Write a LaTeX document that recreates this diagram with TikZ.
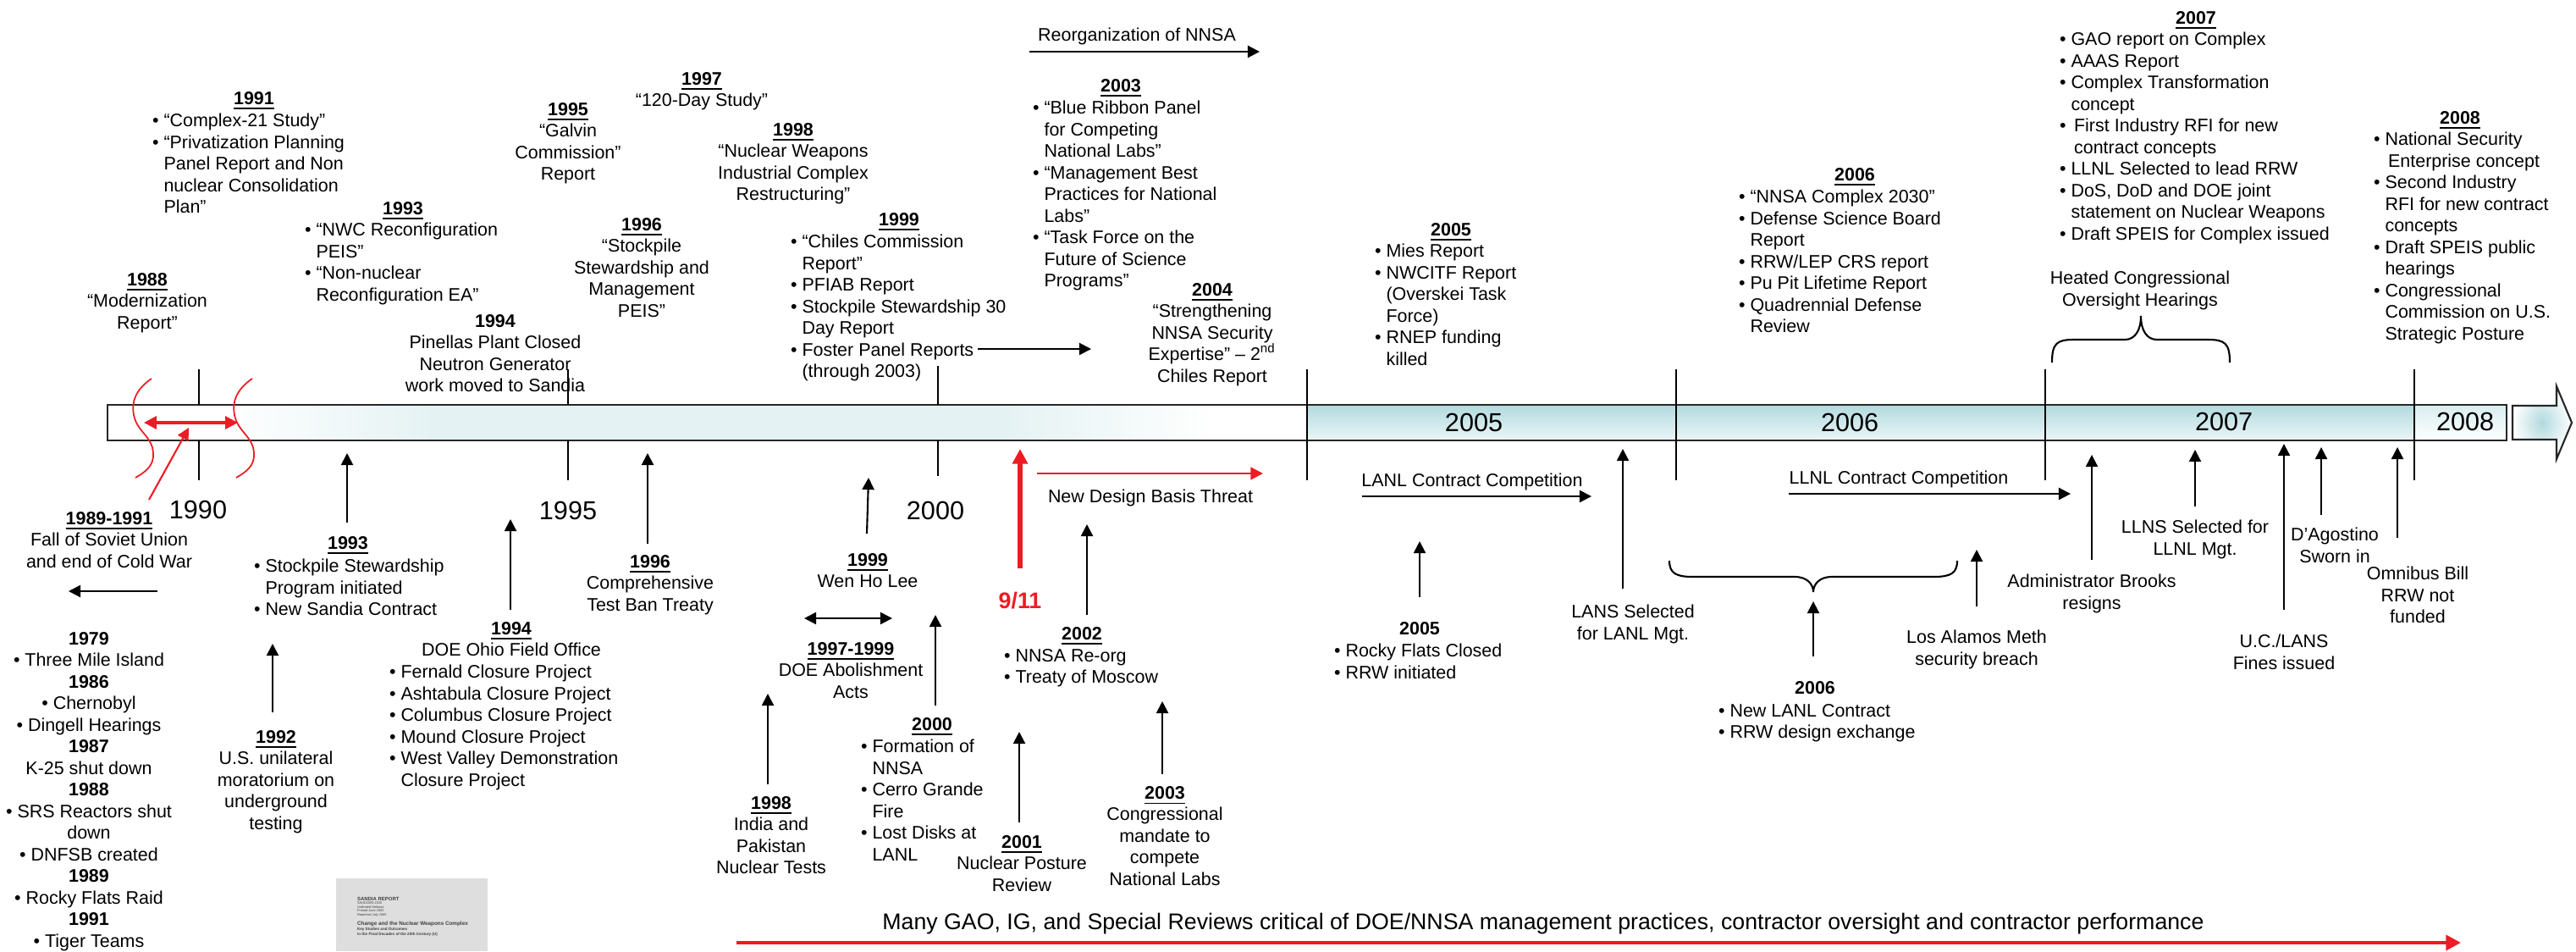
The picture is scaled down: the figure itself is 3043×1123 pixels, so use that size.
\documentclass[tikz,border=0pt]{standalone}
\usepackage{fontspec}
\setmainfont{Liberation Sans}
\usetikzlibrary{arrows.meta,fadings}
\definecolor{barteal}{RGB}{178,218,222}
\definecolor{nnsared}{RGB}{237,28,36}
\definecolor{thumbgray}{RGB}{222,222,222}
\newcommand{\yh}[1]{\underline{\textbf{#1}}}
\newcommand{\bul}{\textbullet\ }
\newcommand{\bulind}{\hphantom{\textbullet\ }}
\pgfdeclarehorizontalshading{barshade}{100bp}{color(0bp)=(white); color(30bp)=(white); color(39bp)=(barteal); color(62bp)=(barteal); color(71bp)=(white); color(100bp)=(white)}
\tikzfading[name=barband, top color=transparent!35, middle color=transparent!100, bottom color=transparent!35]
\begin{document}
\begin{tikzpicture}[x=0.01cm, y=-0.01cm, >={Triangle[length=4pt, width=4pt]}, line width=0.6pt,
    txt/.style={font=\fontsize{6.1}{7.25}\selectfont, inner sep=0pt, align=center},
    blk/.style={txt, anchor=north},
    lst/.style={txt, align=left, anchor=north west},
    hdg/.style={txt, anchor=base},
    yr/.style={font=\fontsize{8.7}{10}\selectfont, inner sep=0pt},
    redarr/.style={-{Triangle[length=5pt, width=5pt]}, nnsared, line width=1.5pt},
    barline/.style={draw=black!85, line width=0.6pt},
    thumb/.style={inner sep=0pt, anchor=west, text=black!75}]

    \useasboundingbox (0,0) rectangle (3043,1123);

    % timeline bar
    \shade[shading=barshade] (127,478) rectangle (1544,520);
    \fill[white, path fading=barband] (127,478) rectangle (1544,520);
    \shade[top color=barteal, bottom color=barteal!25] (1544,478) rectangle (2852,520);
    \shade[top color=barteal!50, bottom color=white] (2852,478) rectangle (2961,520);
    \draw[barline] (127,478) rectangle (2961,520);
    \shadedraw[inner color=barteal, outer color=white, barline] (2968,479) -- (3020,479) -- (3020,456) -- (3038,499) -- (3020,542) -- (3020,519) -- (2968,519) -- cycle;

    \draw (235,436) -- (235,478) (235,520) -- (235,567);
    \draw (671,436) -- (671,478) (671,520) -- (671,567);
    \draw (1108,432) -- (1108,478) (1108,520) -- (1108,562);
    \draw (1544,436) -- (1544,567);
    \draw (1980,436) -- (1980,567);
    \draw (2416,436) -- (2416,567);
    \draw (2852,436) -- (2852,567);

    \node[yr] (y90) at (234,602) {1990};
    \node[yr] (y95) at (671,603) {1995};
    \node[yr] (y00) at (1105,603) {2000};
    \node[yr] (y05) at (1741,499) {2005};
    \node[yr] (y06) at (2185,499) {2006};
    \node[yr] (y07) at (2627,498) {2007};
    \node[yr] (y08) at (2912,498) {2008};

    % end of the cold war
    \draw[nnsared, line width=0.5pt] (179,447) .. controls (160,460) and (155,475) .. (158,490) .. controls (162,510) and (180,515) .. (181,535) .. controls (182,550) and (172,557) .. (160,564);
    \draw[nnsared, line width=0.5pt] (298,447) .. controls (279,460) and (274,475) .. (277,490) .. controls (281,510) and (299,515) .. (300,535) .. controls (301,550) and (291,557) .. (279,564);
    \coordinate (rl) at (170,499);
    \coordinate (rr) at (281,499);
    \draw[{Triangle[length=4.2pt, width=4.2pt]}-{Triangle[length=4.2pt, width=4.2pt]}, nnsared, line width=0.9pt] (rl) -- (rr);

    % above the bar
    \node[hdg] (h91) at (300,123) {\yh{1991}};
    \node[lst] (t91) at (179,133) {\bul “Complex-21 Study”\\\bul “Privatization Planning\\\bulind Panel Report and Non\\\bulind nuclear Consolidation\\\bulind Plan”};
    \node[blk] (t95) at (671,120) {\yh{1995}\\“Galvin\\Commission”\\Report};
    \node[blk] (t97) at (829,84) {\yh{1997}\\“120-Day Study”};
    \node[blk] (t98) at (937,144) {\yh{1998}\\“Nuclear Weapons\\Industrial Complex\\Restructuring”};
    \node[hdg] (h93) at (476,253) {\yh{1993}};
    \node[lst] (t93) at (359,262) {\bul “NWC Reconfiguration\\\bulind PEIS”\\\bul “Non-nuclear\\\bulind Reconfiguration EA”};
    \node[blk] (t96) at (758,256) {\yh{1996}\\“Stockpile\\Stewardship and\\Management\\PEIS”};
    \node[blk] (t88) at (174,321) {\yh{1988}\\“Modernization\\Report”};
    \node[blk] (t94) at (585,370) {\textbf{1994}\\Pinellas Plant Closed\\Neutron Generator\\work moved to Sandia};
    \node[hdg] (h99) at (1062,266) {\yh{1999}};
    \node[lst] (t99) at (933,276) {\bul “Chiles Commission\\\bulind Report”\\\bul PFIAB Report\\\bul Stockpile Stewardship 30\\\bulind Day Report\\\bul Foster Panel Reports\\\bulind (through 2003)};
    \node[hdg] (h03) at (1324,108) {\yh{2003}};
    \node[lst] (t03) at (1219,118) {\bul “Blue Ribbon Panel\\\bulind for Competing\\\bulind National Labs”\\\bul “Management Best\\\bulind Practices for National\\\bulind Labs”\\\bul “Task Force on the\\\bulind Future of Science\\\bulind Programs”};
    \node[blk] (t04) at (1432,333) {\yh{2004}\\“Strengthening\\NNSA Security\\Expertise” – 2\textsuperscript{nd}\\Chiles Report};
    \node[txt] (reorg) at (1343,43) {Reorganization of NNSA};
    \node[hdg] (h05) at (1714,278) {\yh{2005}};
    \node[lst] (t05) at (1623,287) {\bul Mies Report\\\bul NWCITF Report\\\bulind (Overskei Task\\\bulind Force)\\\bul RNEP funding\\\bulind killed};
    \node[hdg] (h06) at (2191,213) {\yh{2006}};
    \node[lst] (t06) at (2053,223) {\bul “NNSA Complex 2030”\\\bul Defense Science Board\\\bulind Report\\\bul RRW/LEP CRS report\\\bul Pu Pit Lifetime Report\\\bul Quadrennial Defense\\\bulind Review};
    \node[hdg] (h07) at (2594,28) {\yh{2007}};
    \node[lst] (t07) at (2432,37) {\bul GAO report on Complex\\\bul AAAS Report\\\bul Complex Transformation\\\bulind concept\\\bul\,First Industry RFI for new\\\bulind\,contract concepts\\\bul LLNL Selected to lead RRW\\\bul DoS, DoD and DOE joint\\\bulind statement on Nuclear Weapons\\\bul Draft SPEIS for Complex issued};
    \node[hdg] (h08) at (2906,146) {\yh{2008}};
    \node[lst] (t08) at (2803,155) {\bul National Security\\\bulind\,Enterprise concept\\\bul Second Industry\\\bulind RFI for new contract\\\bulind concepts\\\bul Draft SPEIS public\\\bulind hearings\\\bul Congressional\\\bulind Commission on U.S.\\\bulind Strategic Posture};
    \node[blk] (heat) at (2528,319) {Heated Congressional\\Oversight Hearings};
    \draw (2424,428) .. controls (2424,405) and (2430,401) .. (2450,401) -- (2510,401) .. controls (2522,401) and (2529,390) .. (2529,373) .. controls (2529,390) and (2536,401) .. (2548,401) -- (2608,401) .. controls (2628,401) and (2634,405) .. (2634,428);

    % below the bar
    \node[blk] (t8991) at (129,603) {\yh{1989-1991}\\Fall of Soviet Union\\and end of Cold War};
    \node[blk] (tcold) at (105,745) {\textbf{1979}\\\bul Three Mile Island\\\textbf{1986}\\\bul Chernobyl\\\bul Dingell Hearings\\\textbf{1987}\\K-25 shut down\\\textbf{1988}\\\bul SRS Reactors shut\\down\\\bul DNFSB created\\\textbf{1989}\\\bul Rocky Flats Raid\\\textbf{1991}\\\bul Tiger Teams};
    \node[hdg] (h93b) at (411,648) {\yh{1993}};
    \node[lst] (t93b) at (299,659) {\bul Stockpile Stewardship\\\bulind Program initiated\\\bul New Sandia Contract};
    \node[blk] (t92) at (326,861) {\yh{1992}\\U.S. unilateral\\moratorium on\\underground\\testing};
    \node[blk] (h94b) at (604,733) {\yh{1994}\\DOE Ohio Field Office};
    \node[lst] (t94b) at (459,784) {\bul Fernald Closure Project\\\bul Ashtabula Closure Project\\\bul Columbus Closure Project\\\bul Mound Closure Project\\\bul West Valley Demonstration\\\bulind Closure Project};
    \node[blk] (t96b) at (768,654) {\yh{1996}\\Comprehensive\\Test Ban Treaty};
    \node[blk] (t99b) at (1025,652) {\yh{1999}\\Wen Ho Lee};
    \node[blk] (t9799) at (1005,757) {\yh{1997-1999}\\DOE Abolishment\\Acts};
    \node[hdg] (h00) at (1101,862) {\yh{2000}};
    \node[lst] (t00) at (1016,872) {\bul Formation of\\\bulind NNSA\\\bul Cerro Grande\\\bulind Fire\\\bul Lost Disks at\\\bulind LANL};
    \node[blk] (t98b) at (911,939) {\yh{1998}\\India and\\Pakistan\\Nuclear Tests};
    \node[font=\fontsize{7.6}{9}\selectfont\bfseries, text=nnsared, inner sep=0pt] (t911) at (1205,709) {9/11};
    \node[txt] (tdbt) at (1359,588) {New Design Basis Threat};
    \node[hdg] (h02) at (1278,755) {\yh{2002}};
    \node[lst] (t02) at (1185,765) {\bul NNSA Re-org\\\bul Treaty of Moscow};
    \node[blk] (t01) at (1207,985) {\yh{2001}\\Nuclear Posture\\Review};
    \node[blk] (t03b) at (1376,927) {\yh{2003}\\Congressional\\mandate to\\compete\\National Labs};
    \node[txt] (tlanl) at (1739,569) {LANL Contract Competition};
    \node[hdg] (h05b) at (1677,749) {\textbf{2005}};
    \node[lst] (t05b) at (1575,759) {\bul Rocky Flats Closed\\\bul RRW initiated};
    \node[blk] (tlans) at (1929,713) {LANS Selected\\for LANL Mgt.};
    \node[txt] (tllnl) at (2243,566) {LLNL Contract Competition};
    \draw (1972,662) .. controls (1972,677) and (1980,681) .. (2000,681) -- (2120,681) .. controls (2135,681) and (2142,690) .. (2142,699) .. controls (2142,690) and (2149,681) .. (2164,681) -- (2284,681) .. controls (2304,681) and (2312,677) .. (2312,662);
    \node[hdg] (h06b) at (2144,819) {\textbf{2006}};
    \node[lst] (t06b) at (2029,830) {\bul New LANL Contract\\\bul RRW design exchange};
    \node[blk] (tmeth) at (2335,743) {Los Alamos Meth\\security breach};
    \node[blk] (tbrk) at (2471,677) {Administrator Brooks\\resigns};
    \node[blk] (tllns) at (2593,613) {LLNS Selected for\\LLNL Mgt.};
    \node[blk] (tfine) at (2698,748) {U.C./LANS\\Fines issued};
    \node[blk] (tdag) at (2758,622) {D’Agostino\\Sworn in};
    \node[blk] (tomni) at (2856,668) {Omnibus Bill\\RRW not\\funded};
    \node[font=\fontsize{7.6}{9}\selectfont, inner sep=0pt] (tgao) at (1823,1091) {Many GAO, IG, and Special Reviews critical of DOE/NNSA management practices, contractor oversight and contractor performance};

    % report thumbnail
    \fill[thumbgray] (397,1037) rectangle (576,1123);
    \node[thumb, font=\fontsize{1.7}{2}\selectfont\bfseries] (sr1) at (421,1061) {SANDIA REPORT};
    \node[thumb, font=\fontsize{1.1}{1.3}\selectfont, align=left, anchor=north west] (sr2) at (421,1064) {SAND2005-2020\\Unlimited Release\\Printed June 2005\\Reprinted July 2005};
    \node[thumb, font=\fontsize{1.8}{2}\selectfont\bfseries] (sr3) at (421,1091) {Change and the Nuclear Weapons Complex};
    \node[thumb, font=\fontsize{1.3}{1.6}\selectfont\bfseries, align=left, anchor=north west] (sr4) at (421,1094) {Key Studies and Outcomes\\in the Final Decades of the 20th Century (U)};

    % arrow ends
    \coordinate (s8991) at (176,590); \coordinate (e8991) at (223,505);
    \coordinate (scold) at (186,698); \coordinate (ecold) at (81,698);
    \coordinate (s93b) at (410,617); \coordinate (e93b) at (410,535);
    \coordinate (s92) at (322,841); \coordinate (e92) at (322,760);
    \coordinate (s94b) at (603,720); \coordinate (e94b) at (603,613);
    \coordinate (s96b) at (765,642); \coordinate (e96b) at (765,535);
    \coordinate (s99b) at (1024,630); \coordinate (e99b) at (1026,564);
    \coordinate (d97l) at (950,730); \coordinate (d97r) at (1054,730);
    \coordinate (s00) at (1105,833); \coordinate (e00) at (1105,726);
    \coordinate (s98b) at (907,926); \coordinate (e98b) at (907,819);
    \coordinate (s911) at (1205,671); \coordinate (e911) at (1205,530);
    \coordinate (sdbt) at (1225,559); \coordinate (edbt) at (1492,559);
    \coordinate (s02) at (1284,726); \coordinate (e02) at (1284,619);
    \coordinate (s01) at (1204,971); \coordinate (e01) at (1204,864);
    \coordinate (s03b) at (1373,914); \coordinate (e03b) at (1373,828);
    \coordinate (sfos) at (1155,412); \coordinate (efos) at (1289,412);
    \coordinate (sreo) at (1216,61); \coordinate (ereo) at (1488,61);
    \coordinate (slanl) at (1609,586); \coordinate (elanl) at (1880,586);
    \coordinate (s05b) at (1677,705); \coordinate (e05b) at (1677,639);
    \coordinate (slans) at (1917,695); \coordinate (elans) at (1917,530);
    \coordinate (sllnl) at (2113,583); \coordinate (ellnl) at (2446,583);
    \coordinate (s06b) at (2142,775); \coordinate (e06b) at (2142,710);
    \coordinate (smeth) at (2335,716); \coordinate (emeth) at (2335,649);
    \coordinate (sbrk) at (2471,661); \coordinate (ebrk) at (2471,537);
    \coordinate (sllns) at (2593,598); \coordinate (ellns) at (2593,531);
    \coordinate (sfine) at (2698,720); \coordinate (efine) at (2698,524);
    \coordinate (sdag) at (2742,608); \coordinate (edag) at (2742,528);
    \coordinate (somni) at (2832,635); \coordinate (eomni) at (2832,528);
    \coordinate (sgao) at (870,1113); \coordinate (egao) at (2907,1113);

    \draw[-{Triangle[length=4pt, width=4pt]}, nnsared, line width=0.6pt] (s8991) -- (e8991);
    \draw[->] (scold) -- (ecold);
    \draw[->] (s93b) -- (e93b);
    \draw[->] (s92) -- (e92);
    \draw[->] (s94b) -- (e94b);
    \draw[->] (s96b) -- (e96b);
    \draw[->] (s99b) -- (e99b);
    \draw[<->] (d97l) -- (d97r);
    \draw[->] (s00) -- (e00);
    \draw[->] (s98b) -- (e98b);
    \draw[redarr] (s911) -- (e911);
    \draw[-{Triangle[length=4.2pt, width=4.2pt]}, nnsared, line width=0.7pt] (sdbt) -- (edbt);
    \draw[->] (s02) -- (e02);
    \draw[->] (s01) -- (e01);
    \draw[->] (s03b) -- (e03b);
    \draw[->] (sfos) -- (efos);
    \draw[->] (sreo) -- (ereo);
    \draw[->] (slanl) -- (elanl);
    \draw[->] (s05b) -- (e05b);
    \draw[->] (slans) -- (elans);
    \draw[->] (sllnl) -- (ellnl);
    \draw[->] (s06b) -- (e06b);
    \draw[->] (smeth) -- (emeth);
    \draw[->] (sbrk) -- (ebrk);
    \draw[->] (sllns) -- (ellns);
    \draw[->] (sfine) -- (efine);
    \draw[->] (sdag) -- (edag);
    \draw[->] (somni) -- (eomni);
    \draw[redarr, line width=1.4pt] (sgao) -- (egao);
\end{tikzpicture}
\end{document}
